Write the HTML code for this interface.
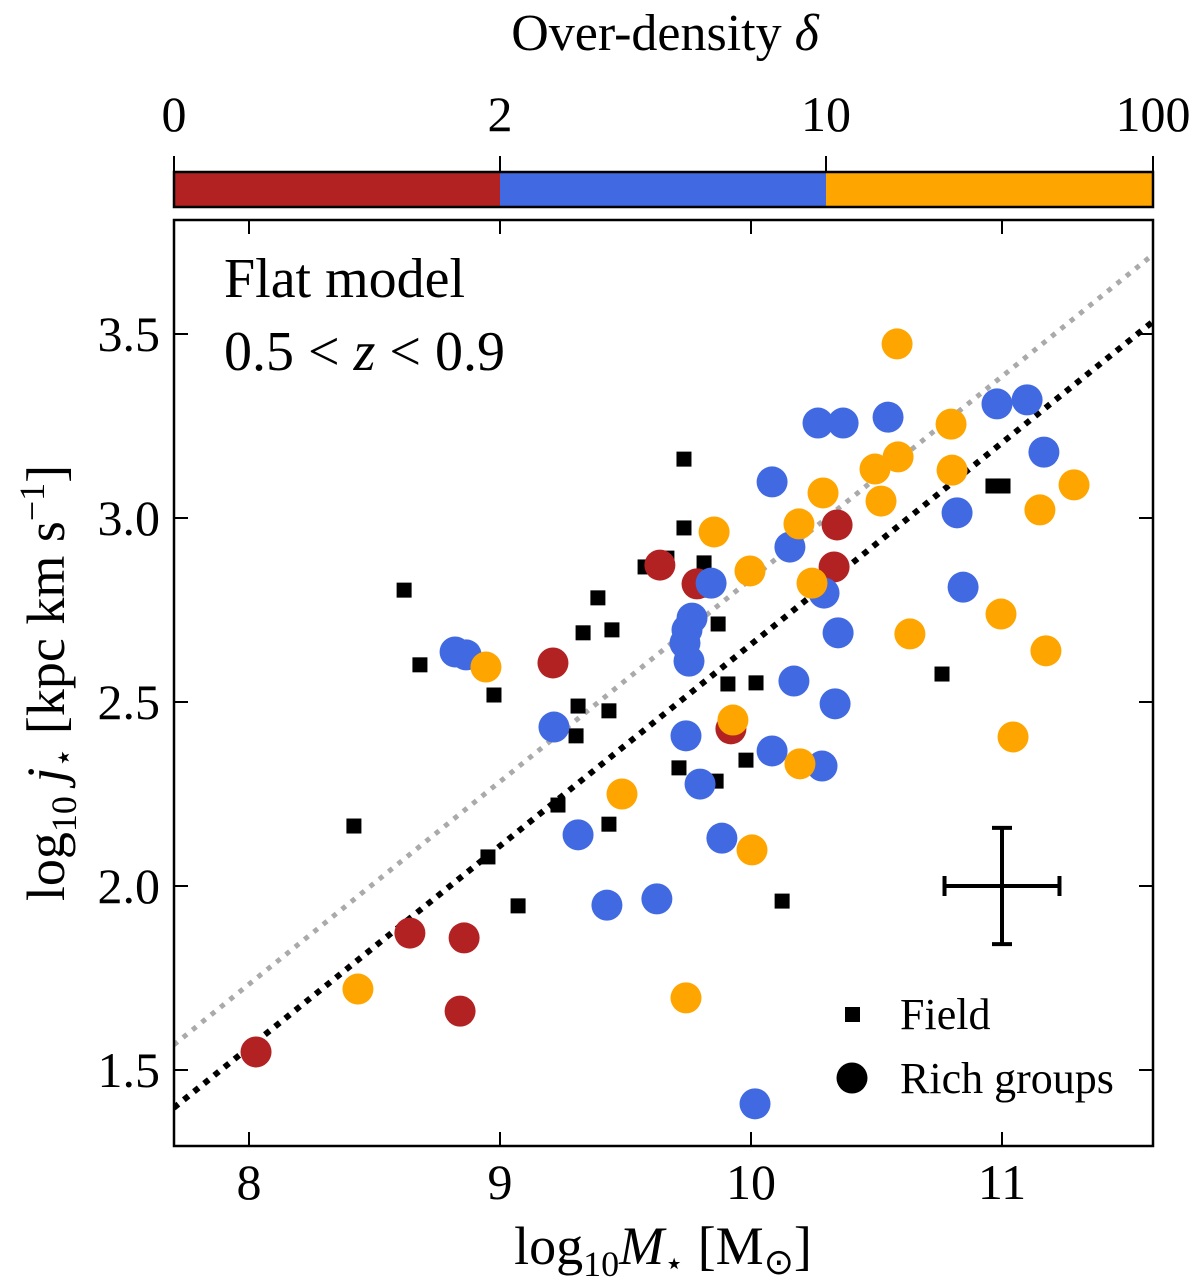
<!DOCTYPE html>
<html><head><meta charset="utf-8"><style>
body{margin:0;background:#fff;}
svg{display:block;font-family:"Liberation Serif",serif;}
</style></head><body>
<svg id="c" width="1200" height="1286" viewBox="0 0 1200 1286"></svg>
<script>
const xTicks=[8,9,10,11];
const yTicks=[1.5,2.0,2.5,3.0,3.5];
const yTickLabels=["1.5","2.0","2.5","3.0","3.5"];
const cbTickLabels=["0","2","10","100"];
const cbColors=["#b22222","#4169e1","#ffa500"];
const fieldX=[8.618,8.681,8.418,8.976,8.952,9.072,9.231,9.303,9.311,9.331,9.390,9.434,9.434,9.446,9.578,9.665,9.733,9.733,9.713,9.813,9.829,9.861,9.869,9.908,9.980,10.020,10.124,10.761,10.964,11.004];
const fieldY=[2.804,2.601,2.163,2.519,2.079,1.946,2.220,2.408,2.489,2.688,2.783,2.476,2.168,2.696,2.867,2.891,3.160,2.973,2.321,2.878,2.804,2.285,2.712,2.549,2.342,2.552,1.959,2.576,3.087,3.087];
const redX=[8.028,8.641,8.857,8.841,9.211,9.637,9.785,9.920,10.343,10.331];
const redY=[1.549,1.872,1.859,1.660,2.606,2.872,2.821,2.427,2.981,2.867];
const blueX=[8.821,8.865,9.215,9.311,9.426,9.625,9.741,9.737,9.745,9.765,9.753,9.797,9.884,9.841,10.084,10.155,10.171,10.084,10.267,10.367,10.291,10.283,10.347,10.335,10.546,10.821,10.845,10.980,11.100,11.167,10.016];
const blueY=[2.636,2.628,2.432,2.139,1.948,1.965,2.408,2.660,2.696,2.728,2.611,2.277,2.130,2.823,3.098,2.921,2.557,2.367,3.258,3.258,2.796,2.326,2.688,2.495,3.274,3.014,2.812,3.310,3.321,3.179,1.408];
const orangeX=[8.434,8.944,9.486,9.741,9.853,9.928,10.004,9.996,10.195,10.191,10.243,10.287,10.494,10.518,10.582,10.586,10.633,10.797,10.801,10.996,11.044,11.151,11.175,11.287];
const orangeY=[1.720,2.595,2.250,1.696,2.962,2.451,2.098,2.856,2.332,2.984,2.823,3.068,3.133,3.046,3.473,3.166,2.685,3.255,3.130,2.739,2.405,3.022,2.639,3.090];
const fitX=[7.70,11.60];
const fitBlackY=[1.397,3.533];
const fitGrayY=[1.568,3.715];
const errCenter=[11.0,2.0];
const errSize=[0.229,0.158];

const L=174,R=1153,T=220,B=1146;
const sx=v=>249+(v-8)*251;
const sy=v=>334-(v-3.5)*368;
const svg=document.getElementById('c');
const NS='http://www.w3.org/2000/svg';
function mk(tag,at,txt){const e=document.createElementNS(NS,tag);for(const k in at)e.setAttribute(k,at[k]);if(txt!==undefined)e.textContent=txt;svg.appendChild(e);return e;}

const cbX=[174,500,826,1153];
for(let i=0;i<3;i++){const r=mk('rect',{x:cbX[i],y:172,width:cbX[i+1]-cbX[i],height:35,fill:cbColors[i]});

}
const cbf=mk('rect',{x:174,y:172,width:979,height:35,fill:'none',stroke:'#000','stroke-width':2.5});


cbTickLabels.forEach((t,i)=>{
 mk('line',{x1:cbX[i],y1:156,x2:cbX[i],y2:172,stroke:'#000','stroke-width':2});
 const tx=mk('text',{x:cbX[i],y:131,'font-size':50,'text-anchor':'middle'},t);
 
 
});
const cbt=mk('text',{x:665,y:50,'font-size':52,'text-anchor':'middle'});
cbt.innerHTML='Over-density <tspan font-style="italic">δ</tspan>';



const defs=mk('defs',{});
defs.innerHTML='<clipPath id="pc"><rect x="174" y="220" width="979" height="926"/></clipPath>';
const g=mk('g',{'clip-path':'url(#pc)'});
function gk(tag,at){const e=document.createElementNS(NS,tag);for(const k in at)e.setAttribute(k,at[k]);g.appendChild(e);return e;}

const lg=gk('line',{x1:sx(fitX[0]),y1:sy(fitGrayY[0]),x2:sx(fitX[1]),y2:sy(fitGrayY[1]),stroke:'#aaa','stroke-width':5,'stroke-dasharray':'5 7'});


const lb=gk('line',{x1:sx(fitX[0]),y1:sy(fitBlackY[0]),x2:sx(fitX[1]),y2:sy(fitBlackY[1]),stroke:'#000','stroke-width':6,'stroke-dasharray':'6 7'});



fieldX.forEach((v,i)=>{const r=gk('rect',{x:sx(v)-7.5,y:sy(fieldY[i])-7.5,width:15,height:15,fill:'#000'});

});
function circles(X,Y,col,name){X.forEach((v,i)=>{const c=gk('circle',{cx:sx(v),cy:sy(Y[i]),r:15.5,fill:col});

});}
circles(redX,redY,cbColors[0],'group-point-low');
circles(blueX,blueY,cbColors[1],'group-point-mid');
circles(orangeX,orangeY,cbColors[2],'group-point-high');

const fr=mk('rect',{x:L,y:T,width:R-L,height:B-T,fill:'none',stroke:'#000','stroke-width':2.5});


xTicks.forEach(v=>{const x=sx(v);
 mk('line',{x1:x,y1:B,x2:x,y2:B-14,stroke:'#000','stroke-width':2});
 mk('line',{x1:x,y1:T,x2:x,y2:T+14,stroke:'#000','stroke-width':2});
 const t=mk('text',{x:x,y:1199,'font-size':50,'text-anchor':'middle'},String(v));
 
 });
yTicks.forEach((v,i)=>{const y=sy(v);
 mk('line',{x1:L,y1:y,x2:L+14,y2:y,stroke:'#000','stroke-width':2});
 mk('line',{x1:R,y1:y,x2:R-14,y2:y,stroke:'#000','stroke-width':2});
 const t=mk('text',{x:160,y:y+17,'font-size':50,'text-anchor':'end'},yTickLabels[i]);
 
 });

const ex=sx(errCenter[0]),ey=sy(errCenter[1]);
const ew=errSize[0]*251,eh=errSize[1]*368;
const eb=mk('g',{stroke:'#000','stroke-width':4});


eb.innerHTML=`<line x1="${ex-ew}" y1="${ey}" x2="${ex+ew}" y2="${ey}"/><line x1="${ex}" y1="${ey-eh}" x2="${ex}" y2="${ey+eh}"/><line x1="${ex-ew}" y1="${ey-10}" x2="${ex-ew}" y2="${ey+10}"/><line x1="${ex+ew}" y1="${ey-10}" x2="${ex+ew}" y2="${ey+10}"/><line x1="${ex-10}" y1="${ey-eh}" x2="${ex+10}" y2="${ey-eh}"/><line x1="${ex-10}" y1="${ey+eh}" x2="${ex+10}" y2="${ey+eh}"/>`;

const a1=mk('text',{x:224,y:297,'font-size':56},'Flat model');


const a2=mk('text',{x:224,y:370,'font-size':56});
a2.innerHTML='0.5 &lt; <tspan font-style="italic">z</tspan> &lt; 0.9';



const l1=mk('rect',{x:845,y:1007,width:15,height:15,fill:'#000'});


const l1t=mk('text',{x:900,y:1029,'font-size':44},'Field');


const l2=mk('circle',{cx:852,cy:1078,r:15.5,fill:'#000'});


const l2t=mk('text',{x:900,y:1093,'font-size':44},'Rich groups');



const xt=mk('text',{x:663,y:1264,'font-size':54,'text-anchor':'middle'});
xt.innerHTML='log<tspan font-size="36" dy="12">10</tspan><tspan dy="-12" font-style="italic">M</tspan><tspan font-size="32" dy="10">⋆</tspan><tspan dy="-10"> [M</tspan><tspan font-size="36" dy="10">⊙</tspan><tspan dy="-10">]</tspan>';


const yt=mk('text',{x:0,y:0,'font-size':54,'text-anchor':'middle',transform:'translate(64,683) rotate(-90)'});
yt.innerHTML='log<tspan font-size="36" dy="12">10</tspan><tspan dy="-12" font-style="italic"> j</tspan><tspan font-size="32" dy="10">⋆</tspan><tspan dy="-10"> [kpc km s</tspan><tspan font-size="36" dy="-20">−1</tspan><tspan dy="20">]</tspan>';


</script>
</body></html>
